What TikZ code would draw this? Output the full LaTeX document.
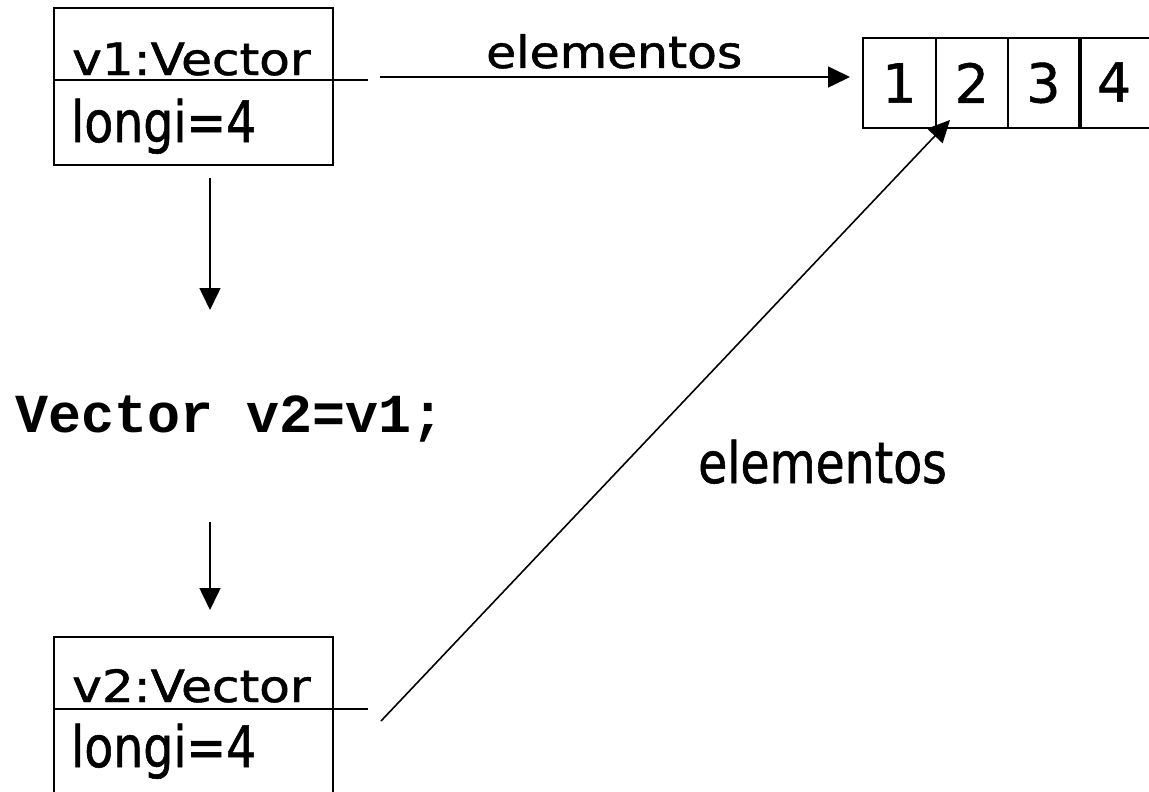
\documentclass[tikz,border=0pt]{standalone}
\usepackage{fontspec}
\usepackage{graphicx}
\setmainfont{DejaVu Sans}
\newfontfamily\tah[FakeStretch=0.83,FakeBold=1]{DejaVu Sans}
\newfontfamily\dig[FakeBold=0.8]{DejaVu Sans}
\newfontfamily\codefont{Liberation Mono}
\usetikzlibrary{arrows.meta}
\newcommand{\squash}[2]{\scalebox{#1}[0.78]{#2}}
\tikzset{
  box/.style={draw, line width=1.8pt, anchor=north west, inner sep=0pt},
  lbl/.style={anchor=base west, inner sep=0pt, font=\tah\fontsize{57}{68}\selectfont},
  cell/.style={draw, line width=1.8pt, anchor=north west, minimum height=90pt, inner sep=0pt, font=\dig\fontsize{54}{64}\selectfont},
  arr/.style={line width=1.6pt, -{Triangle[length=22pt,width=21pt]}},
  ln/.style={line width=1.6pt}
}
\begin{document}
\begin{tikzpicture}[x=1pt,y=-1pt]
\useasboundingbox (0,0) rectangle (1149,792);
% v1 object
\node[box, minimum width=279pt, minimum height=157pt] (v1) at (53,7) {};
\coordinate (v1d) at (53,80);
\coordinate (v1e) at (368,80);
\draw[ln] (v1d) -- (v1e);
\node[lbl] (v1name) at (72,75) {\squash{1.06}{v1:Vector}};
\node[lbl] (v1long) at (71,142) {longi=4};
% array
\node[cell, minimum width=73pt] (c1) at (862,37) {1};
\node[cell, minimum width=72pt] (c2) at (935,37) {2};
\node[cell, minimum width=71pt] (c3) at (1007,37) {3};
\node[cell, minimum width=100pt] (c4) at (1080,37) {};
\node[font=\dig\fontsize{54}{64}\selectfont, inner sep=0pt] (c4t) at (1114,82) {4};
% top arrow
\coordinate (a1s) at (380,77);
\coordinate (a1e) at (850,77);
\draw[arr] (a1s) -- (a1e);
\node[lbl] (el1) at (486,68) {\squash{1.03}{elementos}};
% down arrows
\coordinate (d1s) at (210,178);
\coordinate (d1e) at (210,310);
\draw[arr] (d1s) -- (d1e);
\node[anchor=base west, inner sep=0pt, font=\codefont\fontsize{55}{62}\bfseries\selectfont] (code) at (15,432) {Vector v2=v1;};
\coordinate (d2s) at (210,522);
\coordinate (d2e) at (210,610);
\draw[arr] (d2s) -- (d2e);
% v2 object
\node[box, minimum width=279pt, minimum height=200pt] (v2) at (53,636) {};
\coordinate (v2d) at (53,709);
\coordinate (v2e) at (368,709);
\draw[ln] (v2d) -- (v2e);
\node[lbl] (v2name) at (72,702) {\squash{1.06}{v2:Vector}};
\node[lbl] (v2long) at (71,767) {longi=4};
% diagonal arrow
\coordinate (g1s) at (381,721);
\coordinate (g1e) at (950,120);
\draw[arr] (g1s) -- (g1e);
\node[lbl] (el2) at (698,483) {elementos};
\end{tikzpicture}
\end{document}
